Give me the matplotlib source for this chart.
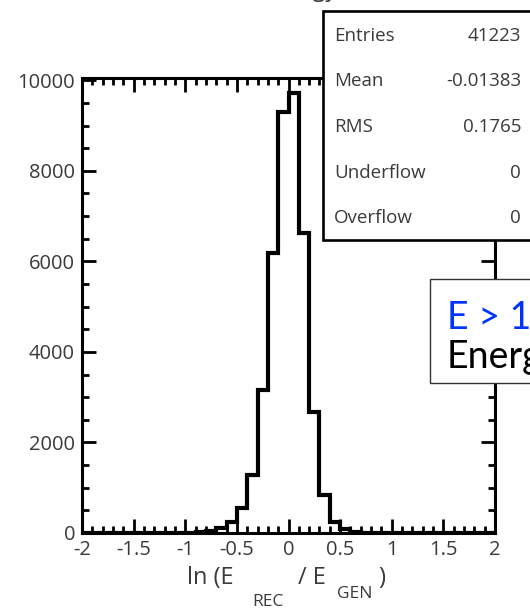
import numpy as np
import matplotlib
matplotlib.use('Agg')
import matplotlib.pyplot as plt
from matplotlib.patches import Rectangle
from matplotlib.ticker import MultipleLocator

# ln(E_rec / E_gen) histogram, 40 bins between -2 and 2
x_lo, x_hi = -2.0, 2.0
counts = [0, 0, 0, 0, 0, 0, 0, 0, 0, 0,
          0, 20, 40, 100, 240, 550, 1280, 3160, 6180, 9290,
          9710, 6620, 2670, 840, 240, 90, 30, 10, 0, 0,
          0, 0, 0, 0, 0, 0, 0, 0, 0, 0]

stat_names = ['Entries', 'Mean', 'RMS', 'Underflow', 'Overflow']
stat_values = ['41223', '-0.01383', '0.1765', '0', '0']

x_ticks = [-2, -1.5, -1, -0.5, 0, 0.5, 1, 1.5, 2]
x_ticklabels = ['-2', '-1.5', '-1', '-0.5', '0', '0.5', '1', '1.5', '2']
y_ticks = [0, 2000, 4000, 6000, 8000, 10000]

FONT = 'Open Sans'
W, H = 530, 611

fig = plt.figure(figsize=(W / 100, H / 100), dpi=100)
ax = fig.add_axes([82 / W, 1 - 533 / H, (495 - 82) / W, (533 - 78) / H])

edges = np.linspace(x_lo, x_hi, len(counts) + 1)
ax.stairs(counts, edges, color='black', lw=3.0)

ax.set_xlim(x_lo, x_hi)
ax.set_ylim(0, 10050)
ax.set_xticks(x_ticks)
ax.set_xticklabels(x_ticklabels)
ax.set_yticks(y_ticks)
ax.xaxis.set_minor_locator(MultipleLocator(0.1))
ax.yaxis.set_minor_locator(MultipleLocator(500))
ax.tick_params(which='both', direction='in', top=True, right=True,
               width=2, color='black', labelcolor='#3a3a3a', labelsize=14.5)
ax.tick_params(which='major', length=10, pad=5)
ax.tick_params(which='minor', length=5)
for lab in ax.get_xticklabels() + ax.get_yticklabels():
    lab.set_fontfamily(FONT)
for sp in ax.spines.values():
    sp.set_linewidth(2.2)

# axis title with lowered subscripts
lab_kw = dict(ha='center', va='center', color='#3a3a3a', family=FONT)
fig.text(210 / W, 1 - 578 / H, 'ln (E', fontsize=17, **lab_kw)
fig.text(268 / W, 1 - 602 / H, 'REC', fontsize=12.5, **lab_kw)
fig.text(312 / W, 1 - 578 / H, '/ E', fontsize=17, **lab_kw)
fig.text(355 / W, 1 - 594 / H, 'GEN', fontsize=12.5, **lab_kw)
fig.text(382 / W, 1 - 578 / H, ')', fontsize=17, **lab_kw)

# title, mostly above the top edge
fig.text(300 / W, 1 - (-10) / H, '(Energy)', fontsize=17, ha='center',
         va='center', color='#3a3a3a', family=FONT)

# statistics box
fig.add_artist(Rectangle((323 / W, 1 - 240 / H), (560 - 323) / W, (240 - 11) / H,
                         transform=fig.transFigure, facecolor='white',
                         edgecolor='black', lw=1.9, zorder=5))
for i, (name, val) in enumerate(zip(stat_names, stat_values)):
    y = 1 - (36 + i * 45.5) / H
    fig.text(334 / W, y, name, fontsize=13.5, ha='left', va='center',
             color='#3a3a3a', family=FONT, zorder=6)
    fig.text(521 / W, y, val, fontsize=13.5, ha='right', va='center',
             color='#3a3a3a', family=FONT, zorder=6)

# energy cut label
fig.add_artist(Rectangle((430 / W, 1 - 383 / H), (560 - 430) / W, (383 - 279) / H,
                         transform=fig.transFigure, facecolor='white',
                         edgecolor='#333333', lw=1.0, zorder=5))
fig.text(447 / W, 1 - 318 / H, 'E > 1 GeV', fontsize=27, ha='left', va='center',
         color='#0033ff', family='Lato', zorder=6)
fig.text(447 / W, 1 - 357 / H, 'Energy', fontsize=27, ha='left', va='center',
         color='black', family='Lato', zorder=6)

fig.savefig('out.png', dpi=100)
